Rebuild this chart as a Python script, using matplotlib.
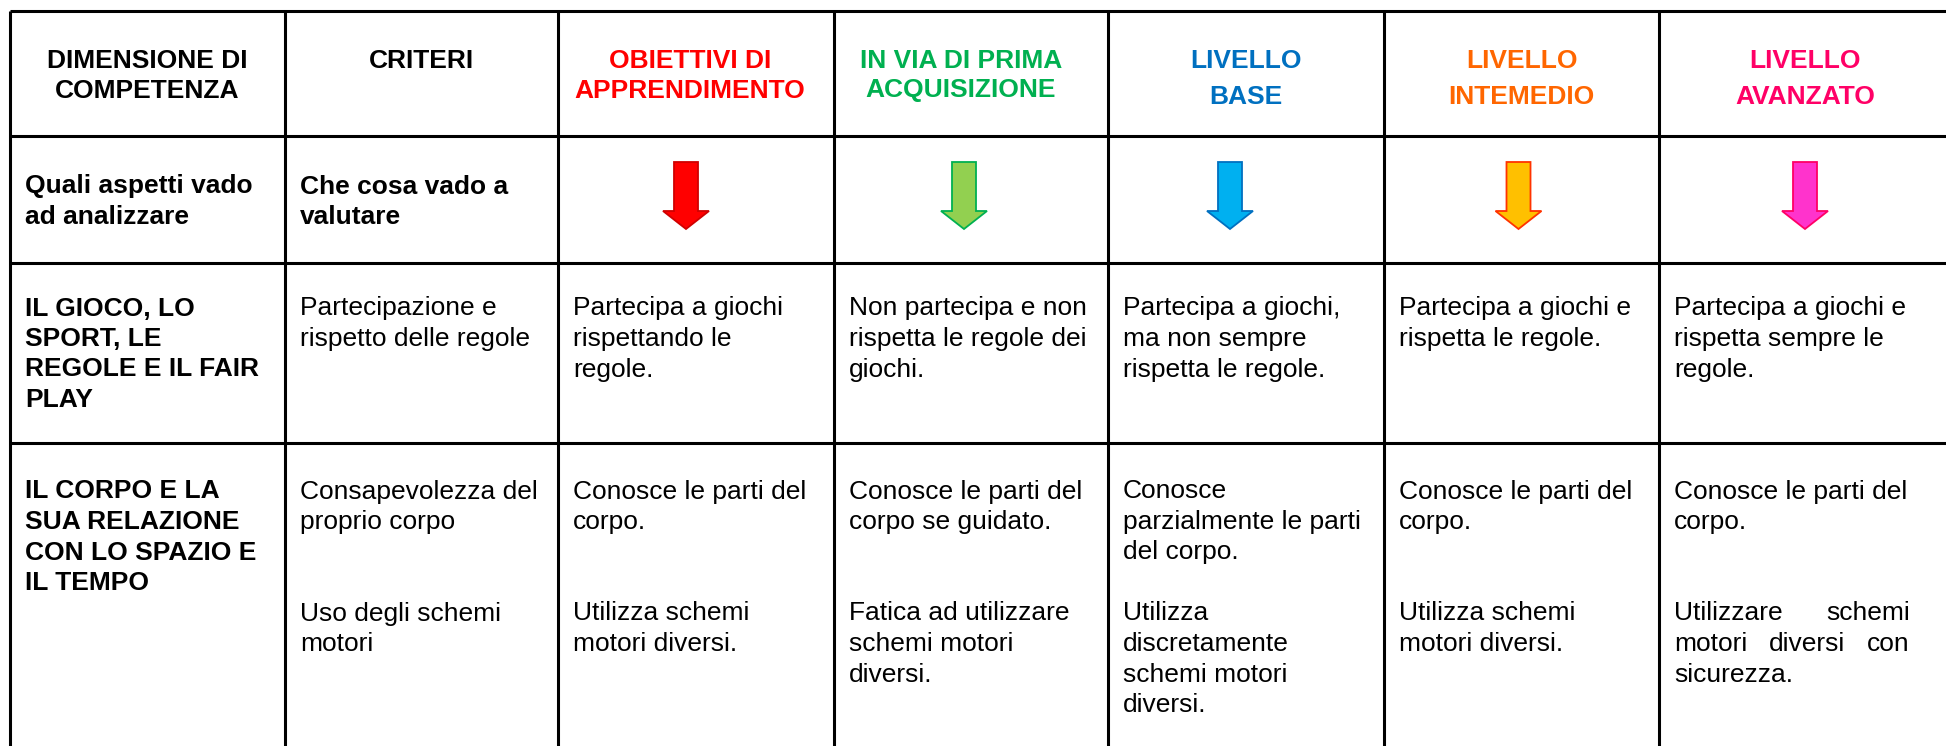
import matplotlib
matplotlib.use("Agg")
import matplotlib.pyplot as plt
from matplotlib.patches import FancyArrow

plt.rcParams['font.family'] = ['Liberation Sans', 'DejaVu Sans']

# ---------------- data ----------------
header_lines = [
    ["DIMENSIONE DI", "COMPETENZA"],
    ["CRITERI"],
    ["OBIETTIVI DI", "APPRENDIMENTO"],
    ["IN VIA DI PRIMA", "ACQUISIZIONE"],
    ["LIVELLO", "BASE"],
    ["LIVELLO", "INTEMEDIO"],
    ["LIVELLO", "AVANZATO"],
]
header_colors = ["#000000", "#000000", "#FF0000", "#00B050", "#0070C0", "#FF6600", "#FF0066"]

question_lines = [
    ["Quali aspetti vado", "ad analizzare"],
    ["Che cosa vado a", "valutare"],
]
arrow_fill = ["#FF0000", "#92D050", "#00B0F0", "#FFC000", "#FF33CC"]
arrow_edge = ["#D00000", "#00B050", "#0070C0", "#FF3300", "#FF0066"]

row1_cells = [
    ["IL GIOCO, LO", "SPORT, LE", "REGOLE E IL FAIR", "PLAY"],
    ["Partecipazione e", "rispetto delle regole"],
    ["Partecipa a giochi", "rispettando le", "regole."],
    ["Non partecipa e non", "rispetta le regole dei", "giochi."],
    ["Partecipa a giochi,", "ma non sempre", "rispetta le regole."],
    ["Partecipa a giochi e", "rispetta le regole."],
    ["Partecipa a giochi e", "rispetta sempre le", "regole."],
]
row2_cells = [
    ["IL CORPO E LA", "SUA RELAZIONE", "CON LO SPAZIO E", "IL TEMPO"],
    ["Consapevolezza del", "proprio corpo", "", "", "Uso degli schemi", "motori"],
    ["Conosce le parti del", "corpo.", "", "", "Utilizza schemi", "motori diversi."],
    ["Conosce le parti del", "corpo se guidato.", "", "", "Fatica ad utilizzare", "schemi motori", "diversi."],
    ["Conosce", "parzialmente le parti", "del corpo.", "", "Utilizza", "discretamente", "schemi motori", "diversi."],
    ["Conosce le parti del", "corpo.", "", "", "Utilizza schemi", "motori diversi."],
    ["Conosce le parti del", "corpo.", "", "", "Utilizzare schemi", "motori diversi con", "sicurezza."],
]
justified = {(6, 4), (6, 5)}

# ---------------- layout (pixels) ----------------
W, H = 1946, 746
col_edges = [10, 285, 558, 834, 1108, 1384, 1659, 1951]
row_edges = [11, 136, 263, 443, 800]
header_dx = [0, 0, -6, -10, 0, 0, 0]
arrow_dx = [-10, -7, -16, -3, 0]
pad = 15
fs = 19            # points at 100 dpi (~26 px)
lh = 30.5          # line height in px
cap = 9.5          # half cap height, px

fig = plt.figure(figsize=(W / 100, H / 100), dpi=100)
ax = fig.add_axes([0, 0, 1, 1])
ax.set_xlim(0, W)
ax.set_ylim(H, 0)
ax.axis('off')

lw = 2.2
for x in col_edges:
    ax.plot([x, x], [row_edges[0], row_edges[-1]], color='black', lw=lw, solid_capstyle='butt')
for y in row_edges[:-1]:
    ax.plot([col_edges[0], col_edges[-1]], [y, y], color='black', lw=lw, solid_capstyle='butt')

# header
for i, lines in enumerate(header_lines):
    cx = (col_edges[i] + col_edges[i + 1]) / 2 + header_dx[i]
    step = 36 if lines[0] == "LIVELLO" else 30
    for k, t in enumerate(lines):
        ax.text(cx, 58 + k * step + cap, t, ha='center', va='baseline', fontsize=fs,
                fontweight='bold', color=header_colors[i])

# question row
for i, lines in enumerate(question_lines):
    for k, t in enumerate(lines):
        ax.text(col_edges[i] + pad, 184 + k * 30 + cap, t, ha='left', va='baseline',
                fontsize=fs, fontweight='bold', color='black')

# arrows
for j in range(5):
    ci = j + 2
    cx = (col_edges[ci] + col_edges[ci + 1]) / 2 + arrow_dx[j]
    top, tip = 162, 229
    arr = FancyArrow(cx, top, 0, tip - top, width=24, head_width=46, head_length=18,
                     length_includes_head=True, facecolor=arrow_fill[j],
                     edgecolor=arrow_edge[j], linewidth=1.3)
    ax.add_patch(arr)

fig.canvas.draw()
renderer = fig.canvas.get_renderer()


def put_line(ci, y, t, bold, justify=False):
    x0 = col_edges[ci] + pad
    kw = dict(va='baseline', fontsize=fs, fontweight='bold' if bold else 'normal', color='black')
    if not justify:
        ax.text(x0, y, t, ha='left', **kw)
        return
    words = t.split()
    width = 236
    arts = [ax.text(0, y, w, ha='left', **kw) for w in words]
    ws = [a.get_window_extent(renderer).width for a in arts]
    gap = (width - sum(ws)) / (len(words) - 1)
    x = x0
    for a, w in zip(arts, ws):
        a.set_x(x)
        x += w + gap


for cells, y0 in ((row1_cells, 306), (row2_cells, 489)):
    for ci, lines in enumerate(cells):
        for k, t in enumerate(lines):
            if t:
                put_line(ci, y0 + k * lh + cap, t, ci == 0, (ci, k) in justified and cells is row2_cells)

fig.savefig("out.png", dpi=100)
